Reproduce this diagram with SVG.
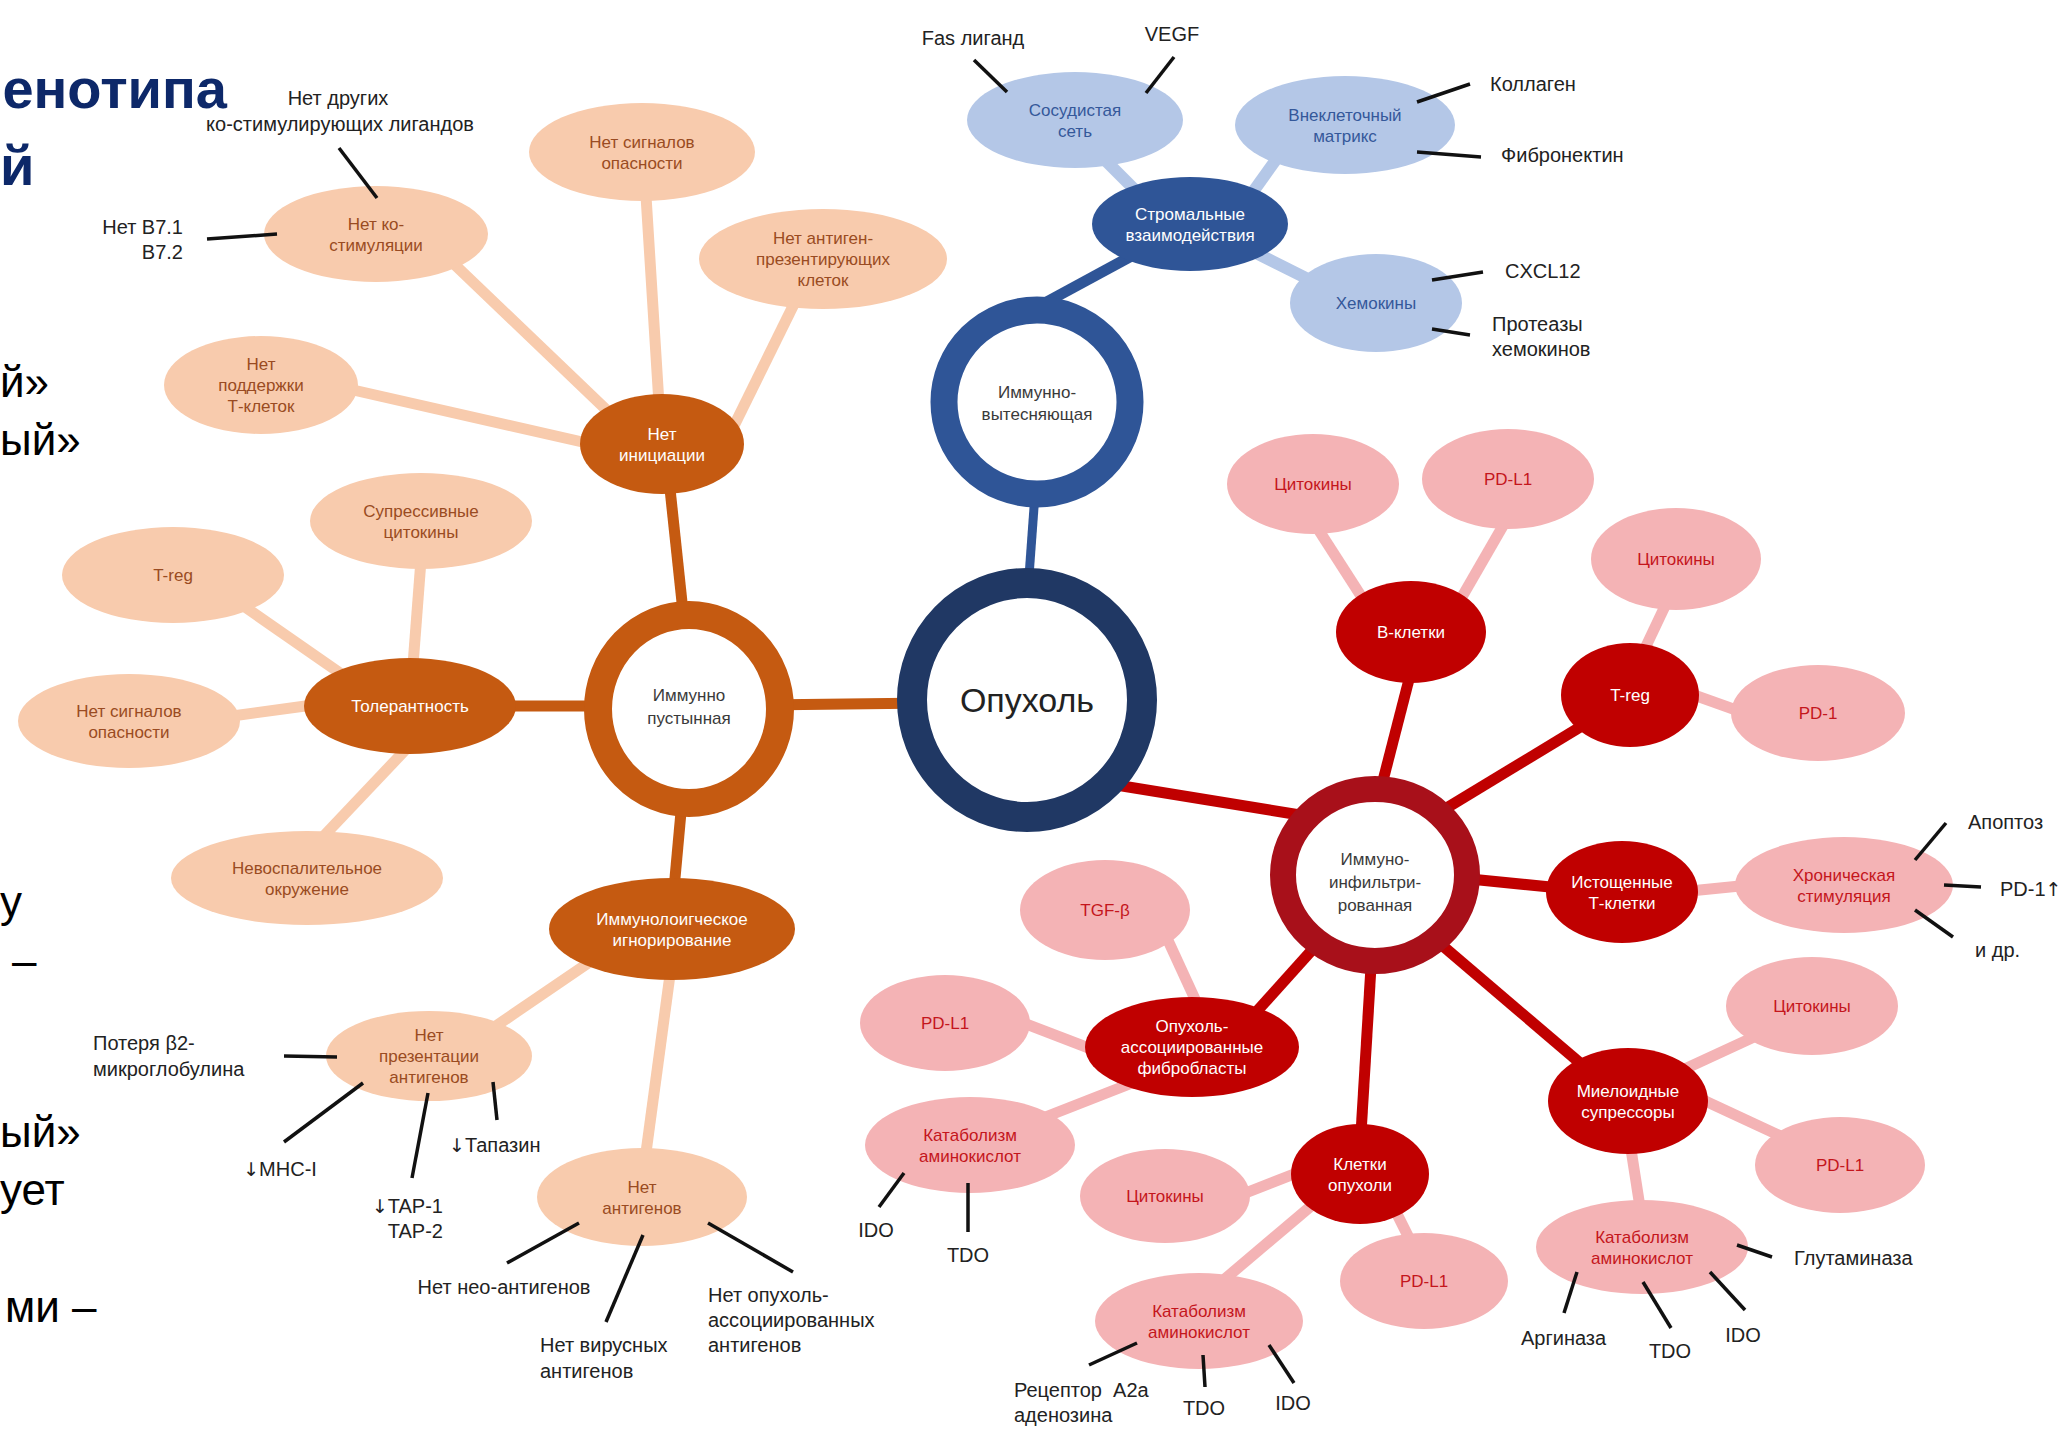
<svg xmlns="http://www.w3.org/2000/svg" width="2067" height="1440" viewBox="0 0 2067 1440">
  <style>
    text { font-family: "Liberation Sans", Arial, sans-serif; }
    .title { font-size: 56px; font-weight: bold; fill: #0d2869; }
    .body { font-size: 44px; fill: #000; }
    .nt { font-size: 17px; text-anchor: middle; }
    .t-w { fill: #ffffff; }
    .t-pe { fill: #9a4b22; }
    .t-lb { fill: #34589a; }
    .t-pk { fill: #c4161c; }
    .t-ring { fill: #3a3a3a; }
    .lbl { font-size: 20px; fill: #222; }
    .mid { text-anchor: middle; }
    .end { text-anchor: end; }
    .n-or { fill: #c55a11; }
    .n-pe { fill: #f8cbad; }
    .n-db { fill: #2f5597; }
    .n-lb { fill: #b4c7e7; }
    .n-dr { fill: #c00000; }
    .n-pk { fill: #f4b3b5; }
    .ring { fill: #ffffff; }
    .l-or { stroke: #c55a11; stroke-width: 11; }
    .l-pe { stroke: #f8cbad; stroke-width: 11; }
    .l-db { stroke: #2f5597; stroke-width: 11; }
    .l-lb { stroke: #b4c7e7; stroke-width: 12; }
    .l-dr { stroke: #c00000; stroke-width: 11; }
    .l-pk { stroke: #f4b3b5; stroke-width: 11; }
    .l-bk { stroke: #111; stroke-width: 3.5; }
  </style>

  <!-- heading and body text fragments at the left edge -->
  <g id="heading">
    <text class="title" x="227" y="108" text-anchor="end">енотипа</text>
    <text class="title" x="0" y="185">й</text>
  </g>
  <g id="body-text">
    <text class="body" x="0" y="397">й»</text>
    <text class="body" x="0" y="455">ый»</text>
    <text class="body" x="0" y="917">у</text>
    <text class="body" x="12" y="976">–</text>
    <text class="body" x="0" y="1147">ый»</text>
    <text class="body" x="0" y="1205">ует</text>
    <text class="body" x="5" y="1322">ми –</text>
  </g>

  <!-- branch connectors, drawn beneath the nodes -->
  <g id="links">
    <!-- tumour to the three phenotypes -->
    <line class="l-or" x1="760" y1="705" x2="930" y2="703"/>
    <line stroke="#2f5597" stroke-width="9" x1="1028" y1="590" x2="1036" y2="480"/>
    <line class="l-dr" x1="1110" y1="784" x2="1300" y2="815"/>
    <!-- immune desert -->
    <line class="l-or" x1="686" y1="640" x2="668" y2="470"/>
    <line class="l-or" x1="500" y1="706" x2="620" y2="706"/>
    <line class="l-or" x1="683" y1="790" x2="673" y2="900"/>
    <line class="l-pe" x1="430" y1="241" x2="640" y2="442"/>
    <line class="l-pe" x1="645" y1="180" x2="660" y2="420"/>
    <line class="l-pe" x1="797" y1="298" x2="727" y2="440"/>
    <line class="l-pe" x1="340" y1="387" x2="600" y2="446"/>
    <line class="l-pe" x1="421" y1="560" x2="413" y2="665"/>
    <line class="l-pe" x1="235" y1="600" x2="350" y2="680"/>
    <line class="l-pe" x1="225" y1="717" x2="320" y2="704"/>
    <line class="l-pe" x1="320" y1="840" x2="410" y2="745"/>
    <line class="l-pe" x1="490" y1="1030" x2="600" y2="955"/>
    <line class="l-pe" x1="645" y1="1160" x2="672" y2="960"/>
    <!-- immune excluded -->
    <line class="l-db" x1="1030" y1="311" x2="1150" y2="246"/>
    <line class="l-lb" x1="1085" y1="140" x2="1160" y2="215"/>
    <line class="l-lb" x1="1290" y1="140" x2="1240" y2="210"/>
    <line class="l-lb" x1="1230" y1="240" x2="1330" y2="290"/>
    <!-- immune infiltrated -->
    <line class="l-dr" x1="1378" y1="800" x2="1414" y2="660"/>
    <line class="l-dr" x1="1440" y1="812" x2="1600" y2="715"/>
    <line class="l-dr" x1="1450" y1="877" x2="1580" y2="890"/>
    <line class="l-dr" x1="1430" y1="935" x2="1600" y2="1080"/>
    <line class="l-dr" x1="1372" y1="950" x2="1360" y2="1150"/>
    <line class="l-dr" x1="1330" y1="930" x2="1240" y2="1030"/>
    <line class="l-pk" x1="1300" y1="501" x2="1390" y2="641"/>
    <line class="l-pk" x1="1515" y1="505" x2="1440" y2="635"/>
    <line class="l-pk" x1="1675" y1="585" x2="1630" y2="680"/>
    <line class="l-pk" x1="1680" y1="690" x2="1750" y2="715"/>
    <line class="l-pk" x1="1680" y1="892" x2="1760" y2="884"/>
    <line class="l-pk" x1="1780" y1="1025" x2="1650" y2="1085"/>
    <line class="l-pk" x1="1800" y1="1145" x2="1660" y2="1080"/>
    <line class="l-pk" x1="1628" y1="1130" x2="1642" y2="1220"/>
    <line class="l-pk" x1="1220" y1="1203" x2="1330" y2="1160"/>
    <line class="l-pk" x1="1385" y1="1190" x2="1420" y2="1260"/>
    <line class="l-pk" x1="1200" y1="1300" x2="1330" y2="1190"/>
    <line class="l-pk" x1="1160" y1="923" x2="1200" y2="1010"/>
    <line class="l-pk" x1="1000" y1="1014" x2="1120" y2="1060"/>
    <line class="l-pk" x1="1030" y1="1123" x2="1150" y2="1076"/>
  </g>

  <!-- central node -->
  <g id="tumour">
    <ellipse class="ring" cx="1027" cy="700" rx="115" ry="117" stroke="#203864" stroke-width="30"/>
    <text x="1027" y="712" font-size="34" fill="#222" text-anchor="middle">Опухоль</text>
  </g>

  <!-- immune desert branch -->
  <g id="desert">
    <ellipse class="ring" cx="689" cy="709" rx="91" ry="94" stroke="#c55a11" stroke-width="28"/>
    <text class="nt t-ring" x="689" y="701">Иммунно<tspan x="689" dy="23">пустынная</tspan></text>
  </g>
  <g id="no-initiation">
    <ellipse class="n-or" cx="662" cy="444" rx="82" ry="50"/>
    <text class="nt t-w" x="662" y="439.5">Нет<tspan x="662" dy="21">инициации</tspan></text>
  </g>
  <g id="tolerance">
    <ellipse class="n-or" cx="410" cy="706" rx="106" ry="48"/>
    <text class="nt t-w" x="410" y="712">Толерантность</text>
  </g>
  <g id="ignorance">
    <ellipse class="n-or" cx="672" cy="929" rx="123" ry="51"/>
    <text class="nt t-w" x="672" y="924.5">Иммунолоигческое<tspan x="672" dy="21">игнорирование</tspan></text>
  </g>
  <g id="no-costim">
    <ellipse class="n-pe" cx="376" cy="234" rx="112" ry="48"/>
    <text class="nt t-pe" x="376" y="229.5">Нет ко-<tspan x="376" dy="21">стимуляции</tspan></text>
  </g>
  <g id="no-danger-1">
    <ellipse class="n-pe" cx="642" cy="152" rx="113" ry="49"/>
    <text class="nt t-pe" x="642" y="147.5">Нет сигналов<tspan x="642" dy="21">опасности</tspan></text>
  </g>
  <g id="no-apc">
    <ellipse class="n-pe" cx="823" cy="259" rx="124" ry="50"/>
    <text class="nt t-pe" x="823" y="244">Нет антиген-<tspan x="823" dy="21">презентирующих</tspan><tspan x="823" dy="21">клеток</tspan></text>
  </g>
  <g id="no-tsupport">
    <ellipse class="n-pe" cx="261" cy="385" rx="97" ry="49"/>
    <text class="nt t-pe" x="261" y="370">Нет<tspan x="261" dy="21">поддержки</tspan><tspan x="261" dy="21">Т-клеток</tspan></text>
  </g>
  <g id="supp-cytokines">
    <ellipse class="n-pe" cx="421" cy="521" rx="111" ry="48"/>
    <text class="nt t-pe" x="421" y="516.5">Супрессивные<tspan x="421" dy="21">цитокины</tspan></text>
  </g>
  <g id="treg-desert">
    <ellipse class="n-pe" cx="173" cy="575" rx="111" ry="48"/>
    <text class="nt t-pe" x="173" y="581">T-reg</text>
  </g>
  <g id="no-danger-2">
    <ellipse class="n-pe" cx="129" cy="721" rx="111" ry="47"/>
    <text class="nt t-pe" x="129" y="716.5">Нет сигналов<tspan x="129" dy="21">опасности</tspan></text>
  </g>
  <g id="non-inflamed">
    <ellipse class="n-pe" cx="307" cy="878" rx="136" ry="47"/>
    <text class="nt t-pe" x="307" y="873.5">Невоспалительное<tspan x="307" dy="21">окружение</tspan></text>
  </g>
  <g id="no-presentation">
    <ellipse class="n-pe" cx="429" cy="1056" rx="103" ry="45"/>
    <text class="nt t-pe" x="429" y="1041">Нет<tspan x="429" dy="21">презентации</tspan><tspan x="429" dy="21">антигенов</tspan></text>
  </g>
  <g id="no-antigens">
    <ellipse class="n-pe" cx="642" cy="1197" rx="105" ry="49"/>
    <text class="nt t-pe" x="642" y="1192.5">Нет<tspan x="642" dy="21">антигенов</tspan></text>
  </g>

  <!-- immune excluded branch -->
  <g id="excluded">
    <ellipse class="ring" cx="1037" cy="402" rx="93" ry="92" stroke="#2f5597" stroke-width="27"/>
    <text class="nt t-ring" x="1037" y="398">Иммунно-<tspan x="1037" dy="22">вытесняющая</tspan></text>
  </g>
  <g id="stromal">
    <ellipse class="n-db" cx="1190" cy="224" rx="98" ry="47"/>
    <text class="nt t-w" x="1190" y="219.5">Стромальные<tspan x="1190" dy="21">взаимодействия</tspan></text>
  </g>
  <g id="vasculature">
    <ellipse class="n-lb" cx="1075" cy="120" rx="108" ry="48"/>
    <text class="nt t-lb" x="1075" y="115.5">Сосудистая<tspan x="1075" dy="21">сеть</tspan></text>
  </g>
  <g id="matrix">
    <ellipse class="n-lb" cx="1345" cy="125" rx="110" ry="49"/>
    <text class="nt t-lb" x="1345" y="120.5">Внеклеточный<tspan x="1345" dy="21">матрикс</tspan></text>
  </g>
  <g id="chemokines">
    <ellipse class="n-lb" cx="1376" cy="303" rx="86" ry="49"/>
    <text class="nt t-lb" x="1376" y="309">Хемокины</text>
  </g>

  <!-- immune infiltrated branch -->
  <g id="infiltrated">
    <ellipse class="ring" cx="1375" cy="875" rx="92" ry="86" stroke="#a8101a" stroke-width="26"/>
    <text class="nt t-ring" x="1375" y="865">Иммуно-<tspan x="1375" dy="23">инфильтри-</tspan><tspan x="1375" dy="23">рованная</tspan></text>
  </g>
  <g id="b-cells">
    <ellipse class="n-dr" cx="1411" cy="632" rx="75" ry="51"/>
    <text class="nt t-w" x="1411" y="638">В-клетки</text>
  </g>
  <g id="treg">
    <ellipse class="n-dr" cx="1630" cy="695" rx="69" ry="52"/>
    <text class="nt t-w" x="1630" y="701">T-reg</text>
  </g>
  <g id="exhausted">
    <ellipse class="n-dr" cx="1622" cy="892" rx="76" ry="51"/>
    <text class="nt t-w" x="1622" y="887.5">Истощенные<tspan x="1622" dy="21">Т-клетки</tspan></text>
  </g>
  <g id="myeloid">
    <ellipse class="n-dr" cx="1628" cy="1101" rx="80" ry="53"/>
    <text class="nt t-w" x="1628" y="1096.5">Миелоидные<tspan x="1628" dy="21">супрессоры</tspan></text>
  </g>
  <g id="tumour-cells">
    <ellipse class="n-dr" cx="1360" cy="1174" rx="69" ry="50"/>
    <text class="nt t-w" x="1360" y="1169.5">Клетки<tspan x="1360" dy="21">опухоли</tspan></text>
  </g>
  <g id="caf">
    <ellipse class="n-dr" cx="1192" cy="1047" rx="107" ry="50"/>
    <text class="nt t-w" x="1192" y="1032">Опухоль-<tspan x="1192" dy="21">ассоциированные</tspan><tspan x="1192" dy="21">фибробласты</tspan></text>
  </g>
  <g id="b-cytokines">
    <ellipse class="n-pk" cx="1313" cy="484" rx="86" ry="50"/>
    <text class="nt t-pk" x="1313" y="490">Цитокины</text>
  </g>
  <g id="b-pdl1">
    <ellipse class="n-pk" cx="1508" cy="479" rx="86" ry="50"/>
    <text class="nt t-pk" x="1508" y="485">PD-L1</text>
  </g>
  <g id="treg-cytokines">
    <ellipse class="n-pk" cx="1676" cy="559" rx="85" ry="51"/>
    <text class="nt t-pk" x="1676" y="565">Цитокины</text>
  </g>
  <g id="treg-pd1">
    <ellipse class="n-pk" cx="1818" cy="713" rx="87" ry="48"/>
    <text class="nt t-pk" x="1818" y="719">PD-1</text>
  </g>
  <g id="chronic">
    <ellipse class="n-pk" cx="1844" cy="885" rx="109" ry="48"/>
    <text class="nt t-pk" x="1844" y="880.5">Хроническая<tspan x="1844" dy="21">стимуляция</tspan></text>
  </g>
  <g id="myeloid-cytokines">
    <ellipse class="n-pk" cx="1812" cy="1006" rx="86" ry="49"/>
    <text class="nt t-pk" x="1812" y="1012">Цитокины</text>
  </g>
  <g id="myeloid-pdl1">
    <ellipse class="n-pk" cx="1840" cy="1165" rx="85" ry="48"/>
    <text class="nt t-pk" x="1840" y="1171">PD-L1</text>
  </g>
  <g id="myeloid-catabolism">
    <ellipse class="n-pk" cx="1642" cy="1247" rx="106" ry="47"/>
    <text class="nt t-pk" x="1642" y="1242.5">Катаболизм<tspan x="1642" dy="21">аминокислот</tspan></text>
  </g>
  <g id="tc-cytokines">
    <ellipse class="n-pk" cx="1165" cy="1196" rx="85" ry="47"/>
    <text class="nt t-pk" x="1165" y="1202">Цитокины</text>
  </g>
  <g id="tc-pdl1">
    <ellipse class="n-pk" cx="1424" cy="1281" rx="84" ry="48"/>
    <text class="nt t-pk" x="1424" y="1287">PD-L1</text>
  </g>
  <g id="tc-catabolism">
    <ellipse class="n-pk" cx="1199" cy="1321" rx="104" ry="48"/>
    <text class="nt t-pk" x="1199" y="1316.5">Катаболизм<tspan x="1199" dy="21">аминокислот</tspan></text>
  </g>
  <g id="caf-tgfb">
    <ellipse class="n-pk" cx="1105" cy="910" rx="85" ry="50"/>
    <text class="nt t-pk" x="1105" y="916">TGF-β</text>
  </g>
  <g id="caf-pdl1">
    <ellipse class="n-pk" cx="945" cy="1023" rx="85" ry="48"/>
    <text class="nt t-pk" x="945" y="1029">PD-L1</text>
  </g>
  <g id="caf-catabolism">
    <ellipse class="n-pk" cx="970" cy="1145" rx="105" ry="48"/>
    <text class="nt t-pk" x="970" y="1140.5">Катаболизм<tspan x="970" dy="21">аминокислот</tspan></text>
  </g>

  <!-- black callout strokes, drawn over the node edges -->
  <g id="callouts">
    <line class="l-bk" x1="339" y1="148" x2="377" y2="198"/>
    <line class="l-bk" x1="207" y1="239" x2="277" y2="234"/>
    <line class="l-bk" x1="974" y1="60" x2="1007" y2="92"/>
    <line class="l-bk" x1="1174" y1="57" x2="1146" y2="93"/>
    <line class="l-bk" x1="1417" y1="102" x2="1470" y2="84"/>
    <line class="l-bk" x1="1417" y1="152" x2="1481" y2="157"/>
    <line class="l-bk" x1="1432" y1="280" x2="1483" y2="272"/>
    <line class="l-bk" x1="1432" y1="329" x2="1470" y2="335"/>
    <line class="l-bk" x1="1946" y1="823" x2="1915" y2="860"/>
    <line class="l-bk" x1="1944" y1="885" x2="1981" y2="887"/>
    <line class="l-bk" x1="1915" y1="910" x2="1953" y2="937"/>
    <line class="l-bk" x1="1737" y1="1245" x2="1772" y2="1257"/>
    <line class="l-bk" x1="1577" y1="1272" x2="1564" y2="1313"/>
    <line class="l-bk" x1="1643" y1="1282" x2="1671" y2="1328"/>
    <line class="l-bk" x1="1710" y1="1272" x2="1745" y2="1310"/>
    <line class="l-bk" x1="1089" y1="1365" x2="1137" y2="1343"/>
    <line class="l-bk" x1="1203" y1="1355" x2="1205" y2="1387"/>
    <line class="l-bk" x1="1269" y1="1345" x2="1294" y2="1383"/>
    <line class="l-bk" x1="904" y1="1173" x2="879" y2="1207"/>
    <line class="l-bk" x1="968" y1="1183" x2="968" y2="1232"/>
    <line class="l-bk" x1="284" y1="1056" x2="337" y2="1057"/>
    <line class="l-bk" x1="284" y1="1142" x2="363" y2="1083"/>
    <line class="l-bk" x1="412" y1="1178" x2="428" y2="1093"/>
    <line class="l-bk" x1="493" y1="1082" x2="497" y2="1120"/>
    <line class="l-bk" x1="507" y1="1263" x2="579" y2="1223"/>
    <line class="l-bk" x1="606" y1="1322" x2="643" y2="1235"/>
    <line class="l-bk" x1="708" y1="1223" x2="793" y2="1272"/>
  </g>

  <!-- callout labels -->
  <g id="labels">
    <text id="lbl-other-ligands" class="lbl mid" x="338" y="105">Нет других<tspan x="340" y="131">ко-стимулирующих лигандов</tspan></text>
    <text id="lbl-b7" class="lbl end" x="183" y="234">Нет B7.1<tspan x="183" y="259">B7.2</tspan></text>
    <text id="lbl-fas" class="lbl mid" x="973" y="45">Fas лиганд</text>
    <text id="lbl-vegf" class="lbl mid" x="1172" y="41">VEGF</text>
    <text id="lbl-collagen" class="lbl" x="1490" y="91">Коллаген</text>
    <text id="lbl-fibronectin" class="lbl" x="1501" y="162">Фибронектин</text>
    <text id="lbl-cxcl12" class="lbl" x="1505" y="278">CXCL12</text>
    <text id="lbl-proteases" class="lbl" x="1492" y="331">Протеазы<tspan x="1492" y="356">хемокинов</tspan></text>
    <text id="lbl-apoptosis" class="lbl" x="1968" y="829">Апоптоз</text>
    <text id="lbl-pd1-up" class="lbl" x="2000" y="896">PD-1<tspan font-family="DejaVu Sans, sans-serif" font-size="19">↑</tspan></text>
    <text id="lbl-etc" class="lbl" x="1975" y="957">и др.</text>
    <text id="lbl-glutaminase" class="lbl" x="1794" y="1265">Глутаминаза</text>
    <text id="lbl-arginase" class="lbl" x="1521" y="1345">Аргиназа</text>
    <text id="lbl-tdo-m" class="lbl mid" x="1670" y="1358">TDO</text>
    <text id="lbl-ido-m" class="lbl mid" x="1743" y="1342">IDO</text>
    <text id="lbl-a2a" class="lbl" x="1014" y="1397">Рецептор&#160; A2a<tspan x="1014" y="1422">аденозина</tspan></text>
    <text id="lbl-tdo-t" class="lbl mid" x="1204" y="1415">TDO</text>
    <text id="lbl-ido-t" class="lbl mid" x="1293" y="1410">IDO</text>
    <text id="lbl-ido-f" class="lbl mid" x="876" y="1237">IDO</text>
    <text id="lbl-tdo-f" class="lbl mid" x="968" y="1262">TDO</text>
    <text id="lbl-b2m" class="lbl" x="93" y="1050">Потеря β2-<tspan x="93" y="1076">микроглобулина</tspan></text>
    <text id="lbl-mhc" class="lbl mid" x="280" y="1176"><tspan font-family="DejaVu Sans, sans-serif" font-size="19">↓</tspan>MHC-I</text>
    <text id="lbl-tap" class="lbl end" x="443" y="1213"><tspan font-family="DejaVu Sans, sans-serif" font-size="19">↓</tspan>TAP-1<tspan x="443" y="1238">TAP-2</tspan></text>
    <text id="lbl-tapasin" class="lbl" x="449" y="1152"><tspan font-family="DejaVu Sans, sans-serif" font-size="19">↓</tspan>Тапазин</text>
    <text id="lbl-neo" class="lbl mid" x="504" y="1294">Нет нео-антигенов</text>
    <text id="lbl-viral" class="lbl" x="540" y="1352">Нет вирусных<tspan x="540" y="1378">антигенов</tspan></text>
    <text id="lbl-taa" class="lbl" x="708" y="1302">Нет опухоль-<tspan x="708" y="1327">ассоциированных</tspan><tspan x="708" y="1352">антигенов</tspan></text>
  </g>
</svg>
